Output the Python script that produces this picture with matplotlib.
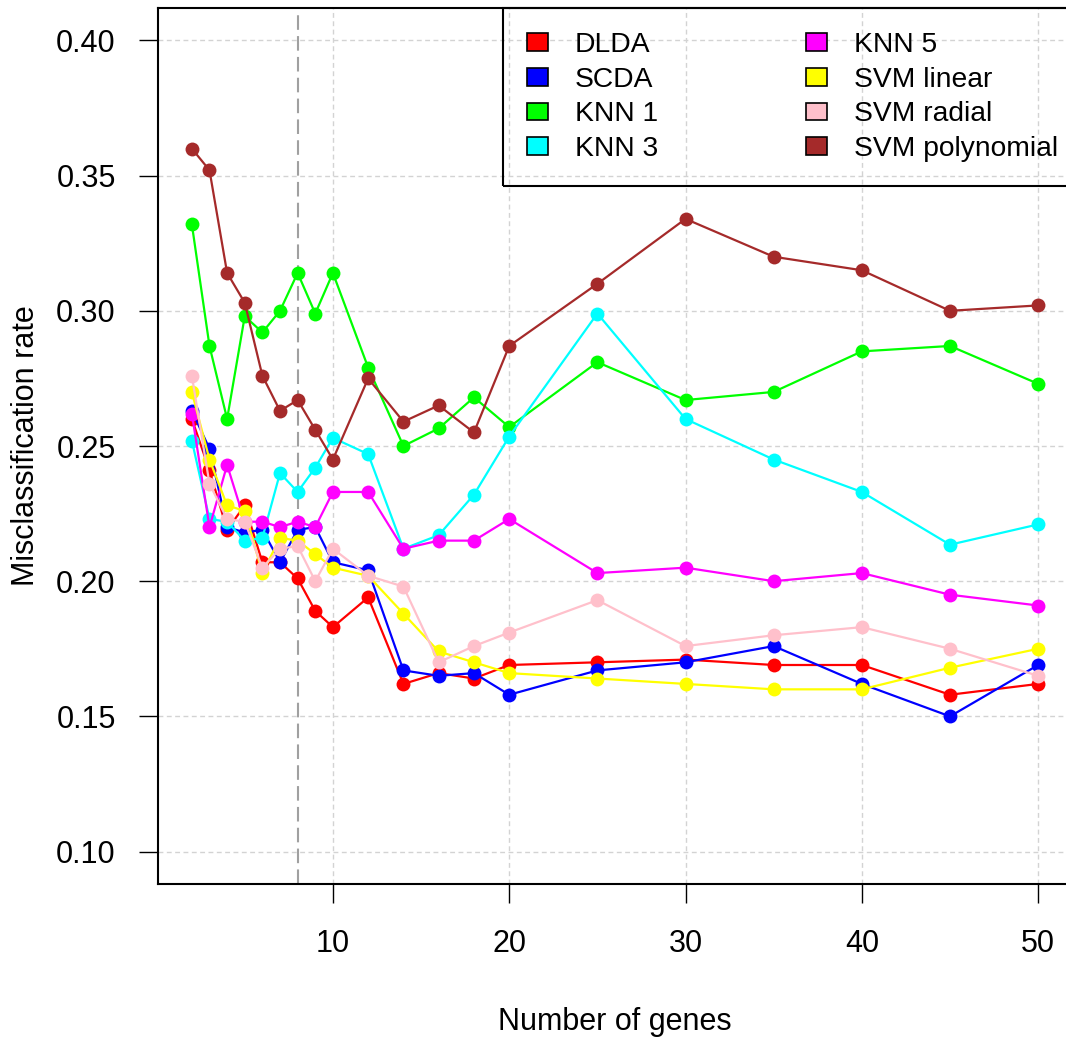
import matplotlib
matplotlib.use("Agg")
import matplotlib.pyplot as plt
from matplotlib.patches import Patch

plt.rcParams['font.family'] = ['Liberation Sans', 'DejaVu Sans']

# number of genes used by each classifier
genes = [2, 3, 4, 5, 6, 7, 8, 9, 10, 12, 14, 16, 18, 20, 25, 30, 35, 40, 45, 50]

# misclassification rates per method
dlda = [0.260, 0.241, 0.219, 0.228, 0.207, 0.207, 0.201, 0.189, 0.183, 0.194,
        0.162, 0.166, 0.164, 0.169, 0.170, 0.171, 0.169, 0.169, 0.158, 0.162]
scda = [0.263, 0.249, 0.220, 0.218, 0.219, 0.207, 0.219, 0.220, 0.207, 0.204,
        0.167, 0.165, 0.166, 0.158, 0.167, 0.170, 0.176, 0.162, 0.150, 0.169]
knn1 = [0.332, 0.287, 0.260, 0.298, 0.292, 0.300, 0.314, 0.299, 0.314, 0.279,
        0.250, 0.2565, 0.268, 0.257, 0.281, 0.267, 0.270, 0.285, 0.287, 0.273]
knn3 = [0.252, 0.223, 0.222, 0.215, 0.216, 0.240, 0.233, 0.242, 0.253, 0.247,
        0.212, 0.217, 0.232, 0.2535, 0.299, 0.260, 0.245, 0.233, 0.2135, 0.221]
knn5 = [0.262, 0.220, 0.243, 0.222, 0.222, 0.220, 0.222, 0.220, 0.233, 0.233,
        0.212, 0.215, 0.215, 0.223, 0.203, 0.205, 0.200, 0.203, 0.195, 0.191]
svm_linear = [0.270, 0.245, 0.228, 0.226, 0.203, 0.216, 0.215, 0.210, 0.205, 0.202,
              0.188, 0.174, 0.170, 0.166, 0.164, 0.162, 0.160, 0.160, 0.168, 0.175]
svm_radial = [0.276, 0.236, 0.223, 0.222, 0.205, 0.212, 0.213, 0.200, 0.212, 0.202,
              0.198, 0.170, 0.176, 0.181, 0.193, 0.176, 0.180, 0.183, 0.175, 0.165]
svm_poly = [0.360, 0.352, 0.314, 0.303, 0.276, 0.263, 0.267, 0.256, 0.245, 0.275,
            0.259, 0.265, 0.255, 0.287, 0.310, 0.334, 0.320, 0.315, 0.300, 0.302]

methods = ['DLDA', 'SCDA', 'KNN 1', 'KNN 3', 'KNN 5',
           'SVM linear', 'SVM radial', 'SVM polynomial']
series = [dlda, scda, knn1, knn3, knn5, svm_linear, svm_radial, svm_poly]
colors = ['#FF0000', '#0000FF', '#00FF00', '#00FFFF', '#FF00FF',
          '#FFFF00', '#FFC0CB', '#A52A2A']

x_ticks = [10, 20, 30, 40, 50]
y_ticks = [0.10, 0.15, 0.20, 0.25, 0.30, 0.35, 0.40]
chosen_genes = 8

fig = plt.figure(figsize=(10.66, 10.41), dpi=100)
ax = fig.add_axes([158 / 1066, 157 / 1041, 914 / 1066, 876 / 1041])

# dotted grid like R's grid()
for xv in x_ticks:
    ax.axvline(xv, color='#D3D3D3', lw=1.0, dashes=(3.5, 2.5), zorder=1)
for yv in y_ticks:
    ax.axhline(yv, color='#D3D3D3', lw=1.0, dashes=(3.5, 2.5), zorder=1)
ax.axvline(chosen_genes, color='#A0A0A0', lw=1.5, dashes=(7, 3), zorder=1)

for vals, col in zip(series, colors):
    ax.plot(genes, vals, color=col, lw=1.6, marker='o', markersize=10,
            markeredgewidth=0, zorder=3)

ax.set_xlim(0.08, 51.92)
ax.set_ylim(0.088, 0.412)
ax.set_xticks(x_ticks)
ax.set_yticks(y_ticks)
ax.set_yticklabels([f'{v:.2f}' for v in y_ticks])
ax.tick_params(axis='both', direction='out', length=13.5, width=1.0,
               labelsize=22, color='black')
ax.tick_params(axis='y', pad=17)
ax.tick_params(axis='x', pad=19)
for sp in ax.spines.values():
    sp.set_linewidth(1.5)
    sp.set_color('black')

ax.set_xlabel('Number of genes', fontsize=22, va='center')
ax.xaxis.set_label_coords(0.5, -138 / 876)
ax.set_ylabel('Misclassification rate', fontsize=22, va='center')
ax.yaxis.set_label_coords(-132 / 914, 0.5)

# transparent legend box, the grid shows through it
handles = [Patch(facecolor=c, edgecolor='black', linewidth=1.2) for c in colors]
leg = ax.legend(handles, methods, loc='upper left',
                bbox_to_anchor=((503 - 158) / 914, 1.0), ncol=2,
                fontsize=20.3, frameon=True, fancybox=False,
                edgecolor='black', borderaxespad=0, borderpad=0.85,
                handlelength=0.74, handleheight=0.6, handletextpad=0.96,
                columnspacing=5.25, labelspacing=0.31)
frame = leg.get_frame()
frame.set_facecolor('none')
frame.set_alpha(None)
frame.set_linewidth(1.5)

fig.savefig('out.png', dpi=100)
